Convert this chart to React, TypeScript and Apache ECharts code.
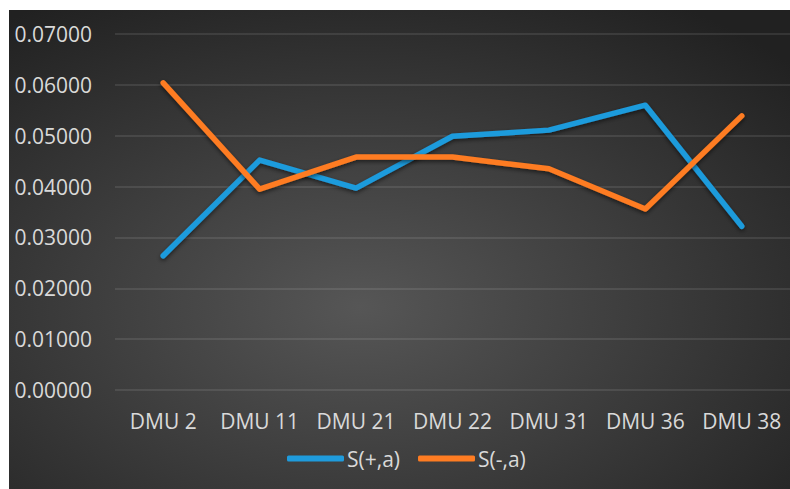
import React, { useEffect, useRef } from "react";
import * as echarts from "echarts";

const categories = ["DMU 2", "DMU 11", "DMU 21", "DMU 22", "DMU 31", "DMU 36", "DMU 38"];
const sPlus = [0.0264, 0.0452, 0.0397, 0.0499, 0.0511, 0.056, 0.0322];
const sMinus = [0.0604, 0.0395, 0.0458, 0.0458, 0.0435, 0.0356, 0.0539];
const seriesNames = ["S(+,a)", "S(-,a)"];

export default function App() {
  const ref = useRef<HTMLDivElement>(null);
  useEffect(() => {
    if (!ref.current) return;
    const chart = echarts.init(ref.current, null, { renderer: "svg" });
    const lineStyle = (color: string) => ({
      color,
      width: 5.5,
      cap: "round" as const,
      join: "round" as const,
      shadowColor: "rgba(0,0,0,0.55)",
      shadowBlur: 4,
      shadowOffsetY: 2,
    });
    chart.setOption({
      animation: false,
      backgroundColor: {
        type: "radial",
        x: 0.45,
        y: 0.62,
        r: 0.75,
        colorStops: [
          { offset: 0, color: "#565656" },
          { offset: 1, color: "#212121" },
        ],
      },
      textStyle: { fontFamily: "Open Sans" },
      grid: { left: 106, right: 0, top: 24, bottom: 99 },
      legend: {
        data: [
          { name: seriesNames[0], icon: "roundRect" },
          { name: seriesNames[1], icon: "roundRect" },
        ],
        left: 273,
        top: 433,
        itemWidth: 57,
        itemHeight: 6,
        itemGap: 18,
        textStyle: { color: "#d9d9d9", fontSize: 21, fontFamily: "Open Sans", padding: [0, 0, 0, -2] },
      },
      xAxis: {
        type: "category",
        data: categories,
        boundaryGap: true,
        axisLine: { show: false },
        axisTick: { show: false },
        axisLabel: { color: "#d9d9d9", fontSize: 21, margin: 20, interval: 0, fontFamily: "Open Sans" },
      },
      yAxis: {
        type: "value",
        min: 0,
        max: 0.07,
        interval: 0.01,
        axisLine: { show: false },
        axisTick: { show: false },
        axisLabel: {
          color: "#d9d9d9",
          fontSize: 21,
          margin: 23,
          fontFamily: "Open Sans",
          formatter: (v: number) => v.toFixed(5),
        },
        splitLine: { show: true, lineStyle: { color: "rgba(255,255,255,0.13)", width: 1.5 } },
      },
      series: [
        {
          name: seriesNames[0],
          type: "line",
          data: sPlus,
          showSymbol: false,
          symbol: "none",
          color: "#1f9bdc",
          lineStyle: lineStyle("#1f9bdc"),
        },
        {
          name: seriesNames[1],
          type: "line",
          data: sMinus,
          showSymbol: false,
          symbol: "none",
          color: "#fe7c22",
          lineStyle: lineStyle("#fe7c22"),
        },
      ],
    });
    return () => chart.dispose();
  }, []);
  return (
    <div style={{ position: "fixed", left: 0, top: 0, width: 790, height: 489, background: "#fff" }}>
      <div ref={ref} style={{ position: "absolute", left: 9, top: 10, width: 781, height: 479 }} />
    </div>
  );
}
